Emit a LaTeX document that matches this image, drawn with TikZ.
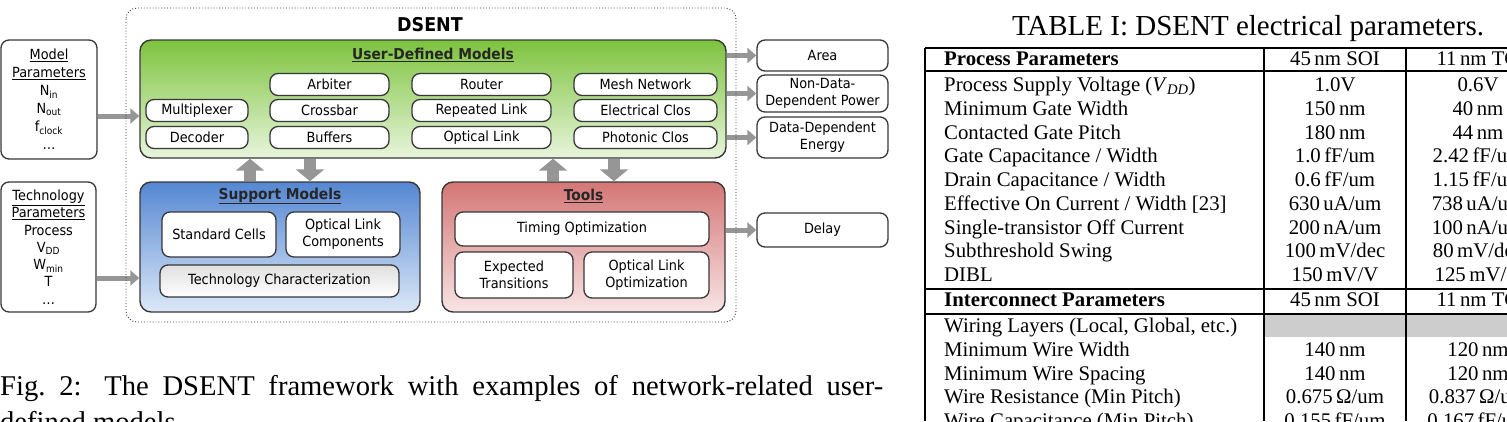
\documentclass[tikz,border=0pt]{standalone}
\usepackage{fontspec}
\setmainfont{Liberation Serif}
\newfontfamily\dia[FakeStretch=0.92]{DejaVu Sans}
\usetikzlibrary{arrows.meta}
\definecolor{bordc}{RGB}{55,55,55}
\definecolor{arrc}{RGB}{150,150,150}
\definecolor{gtop}{RGB}{125,195,62}
\definecolor{gmid}{RGB}{170,218,120}
\definecolor{gbot}{RGB}{232,245,220}
\definecolor{btop}{RGB}{85,135,210}
\definecolor{bmid}{RGB}{140,180,230}
\definecolor{bbot}{RGB}{220,232,248}
\definecolor{rtop}{RGB}{212,118,118}
\definecolor{rmid}{RGB}{230,165,165}
\definecolor{rbot}{RGB}{248,228,228}
\definecolor{tgray}{RGB}{205,205,205}
\begin{document}
\begin{tikzpicture}[x=1pt,y=-1pt,
  dfont/.style={font=\dia\fontsize{14}{17}\selectfont},
  item/.style={draw=bordc, line width=1.3pt, rounded corners=8pt, fill=white, inner sep=0pt, align=center, dfont},
  container/.style={draw=bordc, line width=1.4pt, rounded corners=11pt, inner sep=0pt},
  ctitle/.style={font=\dia\bfseries\fontsize{15}{18}\selectfont, text=black!85, inner sep=0pt},
  harrow/.style={draw=arrc, line width=5pt, -{Triangle[width=15pt,length=9pt]}},
  varrow/.style={draw=arrc, line width=12pt, -{Triangle[width=28pt,length=12pt]}},
  tcell/.style={inner sep=0pt, font=\fontsize{20.8}{23.7}\selectfont},
  trule/.style={line width=1.15pt, black}
]
\useasboundingbox (0,0) rectangle (1507,421);
\clip (0,0) rectangle (1507,421);

% input parameter boxes
\node[item, minimum width=96pt, minimum height=119pt, font=\dia\fontsize{14}{18}\selectfont] (modp) at (49,99.5)
  {\underline{Model}\\\underline{Parameters}\\N\textsubscript{in}\\N\textsubscript{out}\\f\textsubscript{clock}\\\dots};
\node[item, minimum width=95pt, minimum height=130pt, font=\dia\fontsize{14}{17.3}\selectfont] (techp) at (48.5,247)
  {\underline{Technology}\\\underline{Parameters}\\Process\\V\textsubscript{DD}\\W\textsubscript{min}\\T\\\dots};

% DSENT title
\node[font=\dia\bfseries\fontsize{19}{22}\selectfont, inner sep=0pt] (dsent) at (430,25) {DSENT};

% containers
\node[container, top color=gtop, middle color=gmid, bottom color=gbot, minimum width=586pt, minimum height=118pt] (udm) at (433,99) {};
\node[ctitle] (udmt) at (433,55) {\underline{User-Defined Models}};
\node[container, top color=btop, middle color=bmid, bottom color=bbot, minimum width=280pt, minimum height=130pt] (sup) at (280,247) {};
\node[ctitle] (supt) at (280,196) {\underline{Support Models}};
\node[container, top color=rtop, middle color=rmid, bottom color=rbot, minimum width=283pt, minimum height=130pt] (tools) at (583.5,247) {};
\node[ctitle] (toolst) at (583.5,196) {\underline{Tools}};

% user-defined models
\node[item, minimum width=102pt, minimum height=22pt] (mux) at (197,110.5) {Multiplexer};
\node[item, minimum width=102pt, minimum height=22pt] (dec) at (197,137.5) {Decoder};
\node[item, minimum width=119pt, minimum height=22pt] (arb) at (329.5,84.5) {Arbiter};
\node[item, minimum width=119pt, minimum height=22pt] (xbar) at (329.5,110.5) {Crossbar};
\node[item, minimum width=119pt, minimum height=22pt] (buf) at (329.5,137.5) {Buffers};
\node[item, minimum width=139pt, minimum height=22pt] (rtr) at (481.5,84.5) {Router};
\node[item, minimum width=139pt, minimum height=22pt] (rep) at (481.5,110.5) {Repeated Link};
\node[item, minimum width=139pt, minimum height=22pt] (olink) at (481.5,137.5) {Optical Link};
\node[item, minimum width=143pt, minimum height=22pt] (mesh) at (645.5,84.5) {Mesh Network};
\node[item, minimum width=143pt, minimum height=22pt] (eclos) at (645.5,110.5) {Electrical Clos};
\node[item, minimum width=143pt, minimum height=22pt] (pclos) at (645.5,137.5) {Photonic Clos};

% support models
\node[item, minimum width=114pt, minimum height=45pt] (stdc) at (219,234.5) {Standard Cells};
\node[item, minimum width=114pt, minimum height=45pt] (olc) at (343,234.5) {Optical Link\\Components};
\node[item, fill=none, top color=gray!25, bottom color=white, minimum width=239pt, minimum height=32pt] (tchar) at (279.5,281) {Technology Characterization};

% tools
\node[item, minimum width=254pt, minimum height=34pt] (timing) at (582,229) {Timing Optimization};
\node[item, minimum width=118pt, minimum height=46pt] (exptr) at (514,275) {Expected\\Transitions};
\node[item, minimum width=125pt, minimum height=46pt] (olopt) at (646.5,275) {Optical Link\\Optimization};

% outputs
\node[item, minimum width=131pt, minimum height=31pt] (area) at (822.5,55.5) {Area};
\node[item, minimum width=131pt, minimum height=37pt] (ndp) at (822.5,93.5) {Non-Data-\\Dependent Power};
\node[item, minimum width=131pt, minimum height=41pt] (dde) at (822.5,137.5) {Data-Dependent\\Energy};
\node[item, minimum width=131pt, minimum height=34pt] (delay) at (822.5,230) {Delay};

% helper coordinates
\coordinate (ya) at (0,116);
\coordinate (yb) at (0,278);
\coordinate (x1) at (250,0);
\coordinate (x2) at (310,0);
\coordinate (x3) at (553,0);
\coordinate (x4) at (614,0);

% arrows
\draw[harrow] (modp.east |- ya) -- (udm.west |- ya);
\draw[harrow] (techp.east |- yb) -- (sup.west |- yb);
\draw[harrow] (udm.east |- area.center) -- (area.west);
\draw[harrow] (udm.east |- ndp.center) -- (ndp.west);
\draw[harrow] (udm.east |- dde.center) -- (dde.west);
\draw[harrow] (tools.east |- delay.center) -- (delay.west);
\draw[varrow] (sup.north -| x1) -- (udm.south -| x1);
\draw[varrow] (udm.south -| x2) -- (sup.north -| x2);
\draw[varrow] (tools.north -| x3) -- (udm.south -| x3);
\draw[varrow] (udm.south -| x4) -- (tools.north -| x4);

% DSENT dotted frame
\draw[black!80, line width=0.9pt, dotted, rounded corners=11pt] (126,8) rectangle (736,322);

% caption
\node[anchor=north west, inner sep=0pt, text width=883pt, align=justify, font=\fontsize{28.6}{36}\selectfont] (cap) at (0,375.5)
  {Fig.~2: The DSENT framework with examples of network-related user-\linebreak defined models.};

% table
\node[anchor=base, inner sep=0pt, font=\fontsize{29}{34.5}\selectfont] (ttitle) at (1248,35) {TABLE I: DSENT electrical parameters.};
\fill[tgray] (1264,314) rectangle (1507,337);
\draw[trule] (925,48) -- (1507,48);
\draw[trule] (925,71) -- (1507,71);
\draw[trule] (925,289) -- (1507,289);
\draw[trule] (925,314) -- (1507,314);
\draw[trule] (925,48) -- (925,421);
\draw[trule] (1264,48) -- (1264,421);
\draw[trule] (1406,48) -- (1406,421);
\foreach \yy/\ta/\tb/\tc [count=\i] in {
 65.5/{\textbf{Process Parameters}}/{45\,nm SOI}/{11\,nm TG},
 91.5/{Process Supply Voltage (\textit{V}\textsubscript{\textit{DD}})}/{1.0V}/{0.6V},
 115.25/{Minimum Gate Width}/{150\,nm}/{40\,nm},
 139/{Contacted Gate Pitch}/{180\,nm}/{44\,nm},
 162.75/{Gate Capacitance / Width}/{1.0\,fF/um}/{2.42\,fF/um},
 186.5/{Drain Capacitance / Width}/{0.6\,fF/um}/{1.15\,fF/um},
 210.25/{Effective On Current / Width [23]}/{630\,uA/um}/{738\,uA/um},
 234/{Single-transistor Off Current}/{200\,nA/um}/{100\,nA/um},
 257.75/{Subthreshold Swing}/{100\,mV/dec}/{80\,mV/dec},
 281.5/{DIBL}/{150\,mV/V}/{125\,mV/V},
 306.5/{\textbf{Interconnect Parameters}}/{45\,nm SOI}/{11\,nm TG},
 332.5/{Wiring Layers (Local, Global, etc.)}/{}/{},
 356.25/{Minimum Wire Width}/{140\,nm}/{120\,nm},
 380/{Minimum Wire Spacing}/{140\,nm}/{120\,nm},
 403.75/{Wire Resistance (Min Pitch)}/{0.675\,Ω/um}/{0.837\,Ω/um},
 427.5/{Wire Capacitance (Min Pitch)}/{0.155\,fF/um}/{0.167\,fF/um}}{
 \node[tcell, anchor=base west] (ra\i) at (944,\yy) {\ta};
 \node[tcell, anchor=base] (rb\i) at (1335,\yy) {\tb};
 \node[tcell, anchor=base] (rc\i) at (1478,\yy) {\tc};
}
\end{tikzpicture}
\end{document}
